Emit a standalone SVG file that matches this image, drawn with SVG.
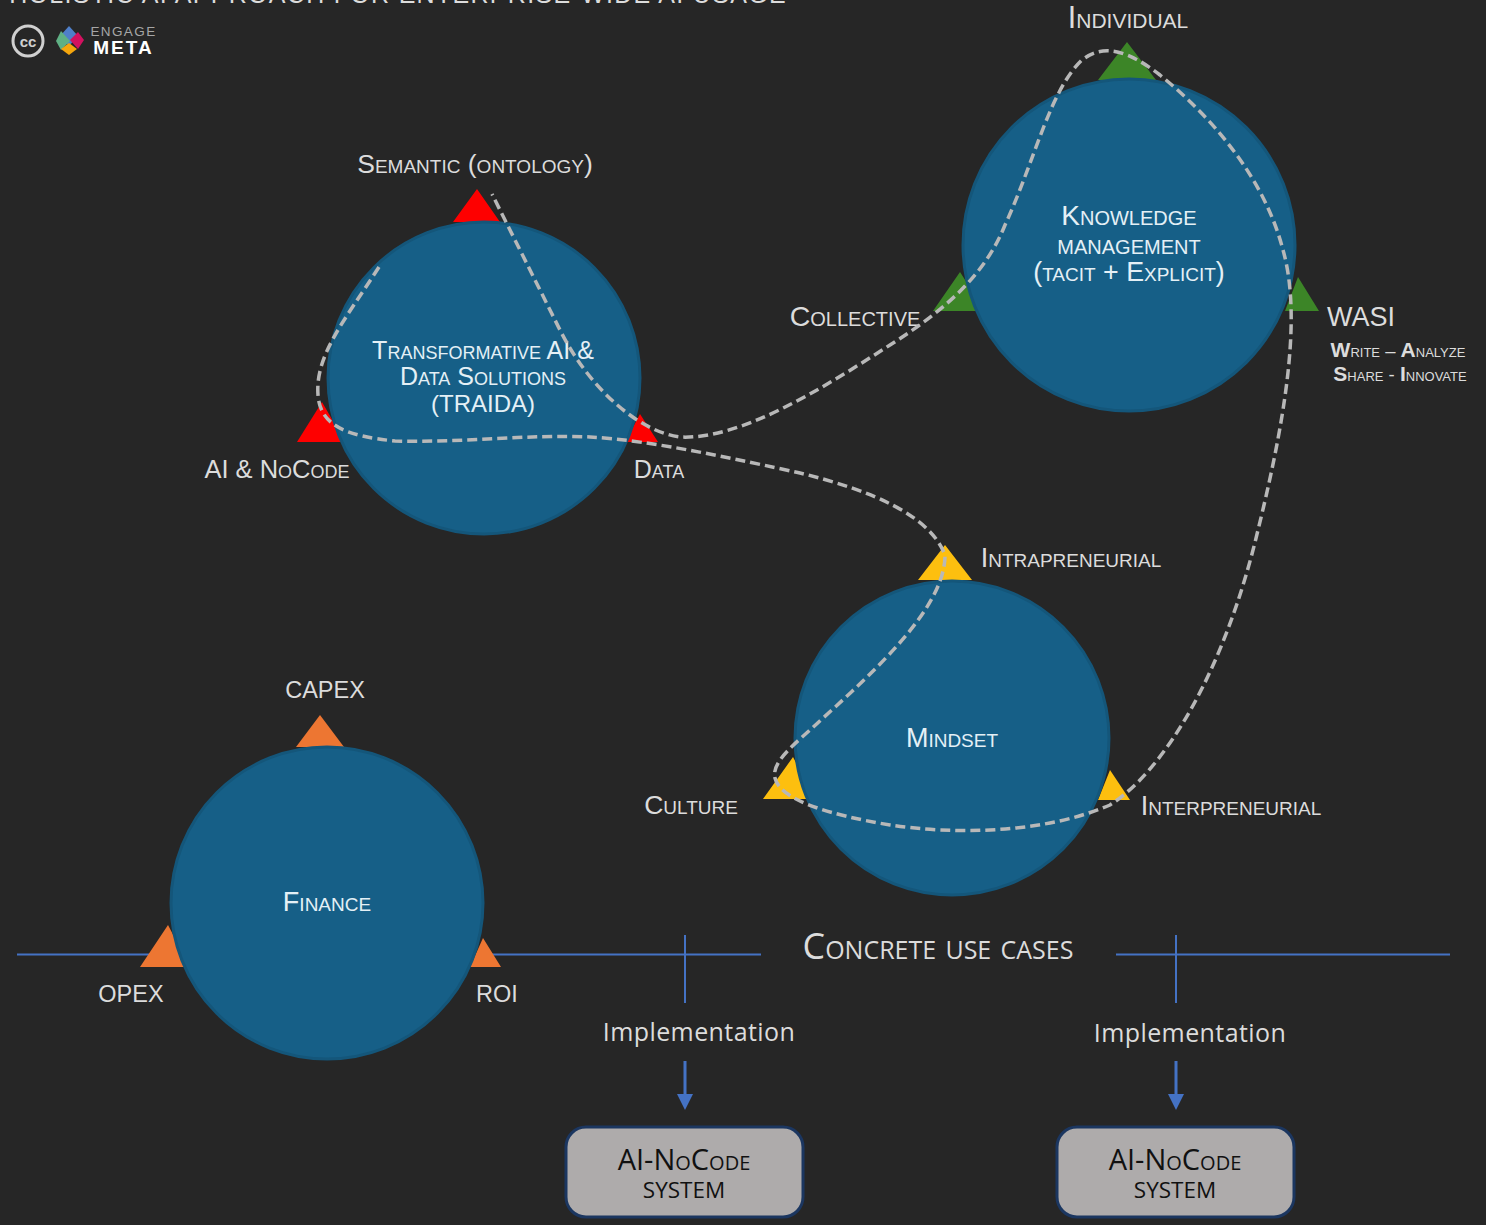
<svg xmlns="http://www.w3.org/2000/svg" width="1486" height="1225" viewBox="0 0 1486 1225">
<style>
text{font-family:"Open Sans","Liberation Sans",sans-serif;fill:#dcdcdc;text-anchor:middle}
.l{font-family:"Liberation Sans",sans-serif;font-variant:small-caps;font-size:27px}
.c{font-family:"Liberation Sans",sans-serif;font-variant:small-caps;font-size:27px;fill:#e4f0f6}
.n{font-variant:normal;font-size:23.500px}
.circ{fill:#165f87;stroke:#14567a;stroke-width:3}
.blue{stroke:#4472c4;stroke-width:2;fill:none}
.imp{font-size:25px;letter-spacing:.4px}
.box{fill:#aeabab;stroke:#1b3660;stroke-width:3}
.b1{fill:#111;font-size:29px;font-variant:small-caps}
.b2{fill:#111;font-size:22.500px}
.w{font-size:18.500px}
.w tspan{font-weight:700;font-size:21px}
</style>
<defs>
<marker id="ah" markerWidth="16" markerHeight="16" refX="0" refY="8" orient="auto" markerUnits="userSpaceOnUse" viewBox="0 0 16 16"><path d="M0 0L16 8L0 16Z" fill="#4472c4"/></marker>
</defs>
<rect width="1486" height="1225" fill="#262626"/>
<text x="398" y="3" style="font-family:'Liberation Sans',sans-serif;font-size:25px;letter-spacing:1.300px">HOLISTIC AI APPROACH FOR ENTERPRISE-WIDE AI USAGE</text>
<g id="logo">
<circle cx="28" cy="41" r="15" fill="none" stroke="#d0d0d0" stroke-width="3"/>
<text x="28" y="46.500" style="font-family:'Liberation Sans',sans-serif;font-size:15px;font-weight:700;fill:#d0d0d0">cc</text>
<path d="M69 26L78 36L69 46L60 36Z" fill="#4f7fc9"/>
<path d="M60 31L69 41L60 50L55 41Z" transform="translate(1 0)" fill="#5fb084"/>
<path d="M78 32L84 40L78 49L70 40Z" fill="#d3115f"/>
<path d="M69 43L77 49L69 55L61 49Z" fill="#f5a60d"/>
<text x="123.500" y="35.500" style="font-family:'Liberation Sans',sans-serif;font-size:13.500px;letter-spacing:1.400px;fill:#a6a6a6">ENGAGE</text>
<text x="123.500" y="54" style="font-family:'Liberation Sans',sans-serif;font-size:19px;font-weight:700;letter-spacing:2px;fill:#fff">META</text>
</g>
<g id="traida">
<path d="M477 189L453 222H500Z M322 402L297 442H345Z M640 414L625 442H658Z" fill="#fe0000"/>
<circle class="circ" cx="484" cy="378" r="156"/>
<text class="c" x="483" y="359" style="font-size:25px">Transformative AI &amp;</text>
<text class="c" x="483" y="385" style="font-size:25px">Data Solutions</text>
<text class="c" x="483" y="412" style="font-size:24px">(TRAIDA)</text>
<text class="l" x="475" y="173" style="font-size:26.500px">Semantic (ontology)</text>
<text class="l" x="277" y="478" style="font-size:25.500px">AI &amp; NoCode</text>
<text class="l" x="659" y="478" style="font-size:25px">Data</text>
</g>
<g id="knowledge">
<path d="M1127 42L1098 80H1156Z M960 272L933 311H985Z M1298 277L1285 311H1319Z" fill="#3c8527"/>
<circle class="circ" cx="1129" cy="245" r="166"/>
<text class="c" x="1129" y="225" style="font-size:28px">Knowledge</text>
<text class="c" x="1129" y="254" style="font-size:28px">management</text>
<text class="c" x="1129" y="281" style="font-size:26.800px">(tacit + Explicit)</text>
<text class="l" x="1128" y="28" style="font-size:30.500px">Individual</text>
<text class="l" x="855" y="326" style="font-size:28.500px">Collective</text>
<text class="l" x="1361" y="326" style="font-variant:normal;font-size:27px">WASI</text>
<text class="l w" x="1398" y="357"><tspan>W</tspan>rite – <tspan>A</tspan>nalyze</text>
<text class="l w" x="1400" y="381"><tspan>S</tspan>hare - <tspan>I</tspan>nnovate</text>
</g>
<g id="mindset">
<path d="M945 545L918 580H972Z M793 757L763 799H815Z M1110 770L1098 800H1130Z" fill="#fdbf0f"/>
<circle class="circ" cx="952" cy="738" r="157"/>
<text class="c" x="952" y="747">Mindset</text>
<text class="l" x="1071" y="567">Intrapreneurial</text>
<text class="l" x="691" y="814" style="font-size:26.500px">Culture</text>
<text class="l" x="1231" y="815">Interpreneurial</text>
</g>
<g id="usecases">
<path class="blue" d="M17 954.500H150M490 954.500H761M685 935V1003M1116 954.500H1450M1176 935V1003"/>
<text class="l" x="938" y="959" style="font-family:'Open Sans',sans-serif;font-size:35.800px">Concrete use cases</text>
</g>
<g id="finance">
<path d="M320 715L296 747H344Z M168 925L140 967H190Z M483 938L470 967H501Z" fill="#ed7632"/>
<circle class="circ" cx="327" cy="903" r="156"/>
<text class="c" x="327" y="911">Finance</text>
<text class="l n" x="325" y="698">CAPEX</text>
<text class="l n" x="131" y="1002">OPEX</text>
<text class="l n" x="497" y="1002">ROI</text>
</g>
<g id="connectors">
<path d="M379 267C345 320 315 355 318 395C320 425 345 436 395 441C460 443 530 434 590 437C650 440 740 460 800 473C870 490 930 515 945 555C945 610 870 675 810 730C785 752 772 765 775 778C780 800 830 815 890 825C950 834 1040 835 1110 805C1165 770 1225 670 1258 530C1290 400 1300 310 1283 250C1265 180 1215 120 1160 75C1130 52 1105 42 1082 60C1050 90 1035 160 1005 225C985 275 945 310 890 345C820 390 740 440 680 437C640 432 590 390 560 330C535 280 510 230 492 194" fill="none" stroke="#b8b8b8" stroke-width="3.500" stroke-dasharray="10 5"/>
<path class="blue" d="M685 1061V1094" style="stroke-width:3" marker-end="url(#ah)"/>
<path class="blue" d="M1176 1061V1094" style="stroke-width:3" marker-end="url(#ah)"/>
</g>
<text class="imp" x="699" y="1041">Implementation</text>
<text class="imp" x="1190" y="1042">Implementation</text>
<g id="system1">
<rect class="box" x="566" y="1127" width="237" height="90" rx="20"/>
<text class="b1" x="684" y="1170">AI-NoCode</text>
<text class="b2" x="684" y="1198">SYSTEM</text>
</g>
<g id="system2">
<rect class="box" x="1057" y="1127" width="237" height="90" rx="20"/>
<text class="b1" x="1175" y="1170">AI-NoCode</text>
<text class="b2" x="1175" y="1198">SYSTEM</text>
</g>
</svg>
